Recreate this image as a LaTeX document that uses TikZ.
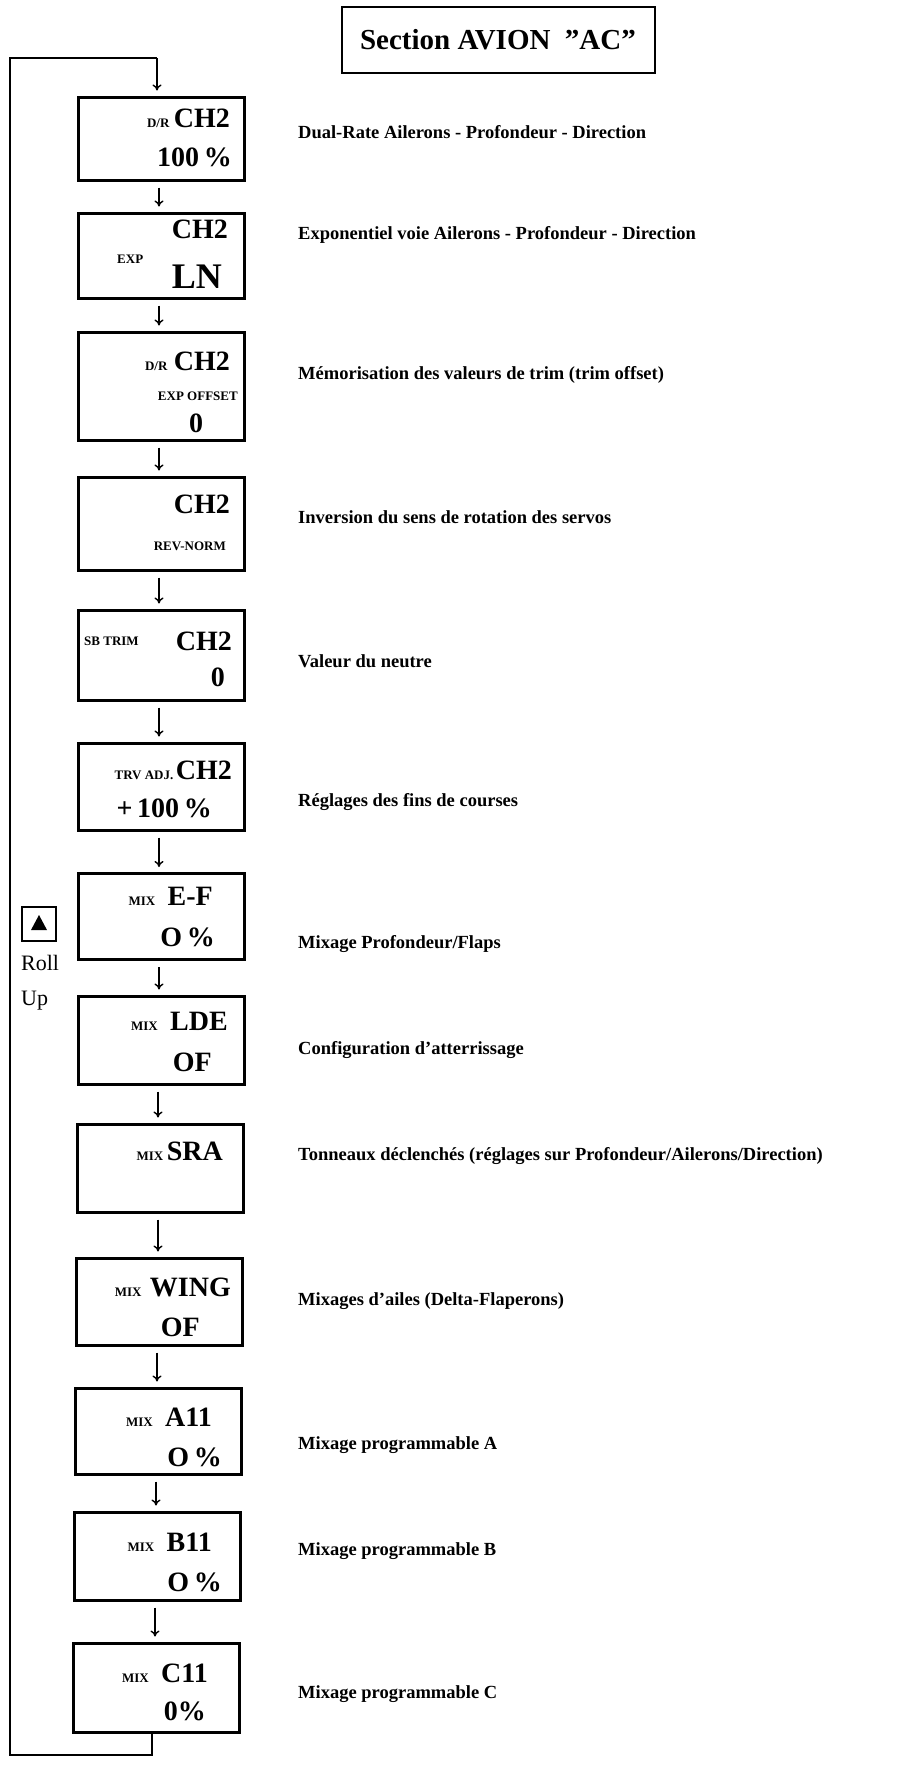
\documentclass[tikz,border=0pt]{standalone}
\usepackage{fontspec}
\setmainfont{Liberation Serif}[Ligatures=ResetAll]
\usetikzlibrary{arrows.meta}
\begin{document}
\begin{tikzpicture}[x=1pt,y=-1pt,
  box/.style={draw,line width=3pt,minimum width=166pt,inner sep=0pt},
  big/.style={font=\fontsize{28}{29}\selectfont\bfseries,inner sep=0pt},
  sm/.style={font=\fontsize{13}{14}\selectfont\bfseries,inner sep=0pt},
  desc/.style={font=\fontsize{18.5}{20}\selectfont\bfseries,anchor=west,inner sep=0pt},
  flow/.style={-{To[length=6pt,width=9pt]},line width=1.4pt,shorten <=6pt,shorten >=5pt},
  loop/.style={line width=1.6pt}]
\useasboundingbox (0,0) rectangle (918,1767);
% title
\node[draw,line width=2pt,minimum width=313pt,minimum height=66pt,font=\fontsize{29}{31}\selectfont\bfseries] (title) at (498,40) {Section AVION\ \ "AC"};
% boxes
\node[box,minimum height=83pt] (b1) at (161,138.5) {};
\node[box,minimum height=85pt] (b2) at (161,255.5) {};
\node[box,minimum height=108pt] (b3) at (161,386) {};
\node[box,minimum height=93pt] (b4) at (161,523.5) {};
\node[box,minimum height=90pt] (b5) at (161,655) {};
\node[box,minimum height=87pt] (b6) at (161,786.5) {};
\node[box,minimum height=86pt] (b7) at (161,916.5) {};
\node[box,minimum height=88pt] (b8) at (161,1040) {};
\node[box,minimum height=88pt] (b9) at (160,1168) {};
\node[box,minimum height=87pt] (b10) at (159,1301.5) {};
\node[box,minimum height=86pt] (b11) at (158,1431) {};
\node[box,minimum height=88pt] (b12) at (157,1556) {};
\node[box,minimum height=89pt] (b13) at (156,1687.5) {};
% box texts
\node[big,anchor=base east] (t1a) at (230,127) {CH2};
\node[sm,anchor=base east] at ([xshift=-4pt]t1a.base west) {D/R};
\node[big,anchor=base east] at (232,166) {100\,\%};
\node[big,anchor=base east] at (228,238) {CH2};
\node[sm,anchor=base west] at (117,263) {EXP};
\node[font=\fontsize{36}{38}\selectfont\bfseries,inner sep=0pt,anchor=base east] at (222,288) {LN};
\node[big,anchor=base east] (t3a) at (230,370) {CH2};
\node[sm,anchor=base east] at ([xshift=-6pt]t3a.base west) {D/R};
\node[sm,anchor=base east] at (238,400) {EXP OFFSET};
\node[big,anchor=base] at (196,432) {0};
\node[big,anchor=base east] at (230,513) {CH2};
\node[sm,anchor=base east] at (226,550) {REV-NORM};
\node[big,anchor=base east] (t5a) at (232,650) {CH2};
\node[sm,anchor=base west] at (84,645) {SB TRIM};
\node[big,anchor=base east] at (225,686) {0};
\node[big,anchor=base east] (t6a) at (232,779) {CH2};
\node[sm,anchor=base east] at ([xshift=-2pt]t6a.base west) {TRV ADJ.};
\node[big,anchor=base east] at (212,817) {+\,100\,\%};
\node[big,anchor=base east] (t7a) at (213,905) {E-F};
\node[sm,anchor=base east] at ([xshift=-12pt]t7a.base west) {MIX};
\node[big,anchor=base east] at (215,946) {O\,\%};
\node[big,anchor=base east] (t8a) at (228,1030) {LDE};
\node[sm,anchor=base east] at ([xshift=-12pt]t8a.base west) {MIX};
\node[big,anchor=base east] at (212,1071) {OF};
\node[big,anchor=base east] (t9a) at (223,1160) {SRA};
\node[sm,anchor=base east] at ([xshift=-3pt]t9a.base west) {MIX};
\node[big,anchor=base east] (t10a) at (231,1296) {WING};
\node[sm,anchor=base east] at ([xshift=-8pt]t10a.base west) {MIX};
\node[big,anchor=base east] at (200,1336) {OF};
\node[big,anchor=base east] (t11a) at (212,1426) {A11};
\node[sm,anchor=base east] at ([xshift=-12pt]t11a.base west) {MIX};
\node[big,anchor=base east] at (222,1466) {O\,\%};
\node[big,anchor=base east] (t12a) at (212,1551) {B11};
\node[sm,anchor=base east] at ([xshift=-12pt]t12a.base west) {MIX};
\node[big,anchor=base east] at (222,1591) {O\,\%};
\node[big,anchor=base east] (t13a) at (208,1682) {C11};
\node[sm,anchor=base east] at ([xshift=-12pt]t13a.base west) {MIX};
\node[big,anchor=base east] at (206,1720) {0\%};
% flow arrows
\foreach \a/\b/\x in {b1/b2/159,b2/b3/159,b3/b4/159,b4/b5/159,b5/b6/159,b6/b7/159,b7/b8/159,b8/b9/158,b9/b10/158,b10/b11/157,b11/b12/156,b12/b13/155}
  \draw[flow] (\a.south -| \x,0) -- (\b.north -| \x,0);
% loop
\coordinate (lb) at (10,1755);
\coordinate (lt) at (10,58);
\coordinate (ltr) at (157,58);
\draw[loop] (b13.south -| 152,0) |- (lb) -- (lt) -- (ltr);
\draw[flow,shorten <=0pt] (ltr) -- (b1.north -| 157,0);
% roll up
\node[draw,line width=1.6pt,minimum size=34pt,inner sep=0pt] (ru) at (39,924) {};
\fill (ru.center) ++(0,-9) -- ++(8,15) -- ++(-16,0) -- cycle;
\node[font=\fontsize{22}{35}\selectfont,anchor=north west,align=left,inner sep=0pt] (rl) at (21,955) {Roll\\Up};
% descriptions
\node[desc] (d1) at (298,132) {Dual-Rate Ailerons - Profondeur - Direction};
\node[desc] (d2) at (298,235) {Exponentiel voie Ailerons - Profondeur - Direction};
\node[desc] (d3) at (298,375) {Mémorisation des valeurs de trim (trim offset)};
\node[desc] (d4) at (298,517) {Inversion du sens de rotation des servos};
\node[desc] (d5) at (298,661) {Valeur du neutre};
\node[desc] (d6) at (298,802) {Réglages des fins de courses};
\node[desc] (d7) at (298,944) {Mixage Profondeur/Flaps};
\node[desc] (d8) at (298,1050) {Configuration d'atterrissage};
\node[desc] (d9) at (298,1156) {Tonneaux déclenchés (réglages sur Profondeur/Ailerons/Direction)};
\node[desc] (d10) at (298,1301) {Mixages d'ailes (Delta-Flaperons)};
\node[desc] (d11) at (298,1445) {Mixage programmable A};
\node[desc] (d12) at (298,1551) {Mixage programmable B};
\node[desc] (d13) at (298,1694) {Mixage programmable C};
\end{tikzpicture}
\end{document}
